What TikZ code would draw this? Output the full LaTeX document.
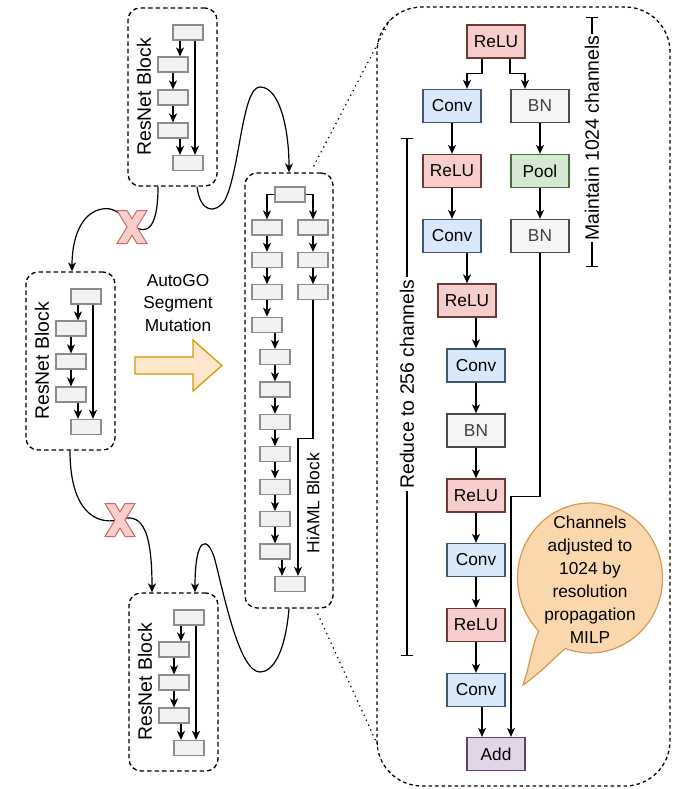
\documentclass[tikz,border=0pt]{standalone}
\usepackage{fontspec}
\setmainfont{Liberation Sans}
\usetikzlibrary{arrows.meta,calc}

\definecolor{relufill}{HTML}{F8CECC}\definecolor{relustroke}{HTML}{6B3A38}
\definecolor{convfill}{HTML}{DAE8FC}\definecolor{convstroke}{HTML}{40566F}
\definecolor{bnfill}{HTML}{F5F5F5}\definecolor{bnstroke}{HTML}{4A4A4A}
\definecolor{poolfill}{HTML}{D5E8D4}\definecolor{poolstroke}{HTML}{4B6B3B}
\definecolor{addfill}{HTML}{E1D5E7}\definecolor{addstroke}{HTML}{5A4566}
\definecolor{minifill}{HTML}{F2F2F2}\definecolor{ministroke}{HTML}{8C8C8C}
\definecolor{notefill}{HTML}{FAD7AC}\definecolor{notestroke}{HTML}{D49A55}
\definecolor{mutfill}{HTML}{FFE6CC}\definecolor{mutstroke}{HTML}{D79B00}
\definecolor{xfill}{HTML}{F8CECC}\definecolor{xstroke}{HTML}{C86A66}

\tikzset{
  arr/.style={line width=1.2pt, -{Stealth[length=9pt,width=8pt,inset=2.5pt]}},
  frame/.style={draw, dashed, dash pattern=on 4.5pt off 3pt, line width=1.3pt,
    rounded corners=12pt, inner sep=0pt},
  mini/.style={draw=ministroke, fill=minifill, line width=1.2pt,
    minimum width=30pt, minimum height=15pt, inner sep=0pt},
  op/.style={draw, line width=1.3pt, minimum width=58pt, minimum height=33pt,
    inner sep=0pt, font=\fontsize{17.3}{20}\selectfont},
  relu/.style={op, fill=relufill, draw=relustroke},
  conv/.style={op, fill=convfill, draw=convstroke},
  bn/.style={op, fill=bnfill, draw=bnstroke, text=black!75},
  pool/.style={op, fill=poolfill, draw=poolstroke},
  addop/.style={op, fill=addfill, draw=addstroke},
  sidetext/.style={font=\fontsize{19.4}{23}\selectfont, inner sep=1pt},
  plaintext/.style={font=\fontsize{17.3}{22.5}\selectfont, align=center, inner sep=0pt},
  bar/.style={line width=1.2pt, {Bar[width=12pt]}-{Bar[width=12pt]}},
  zoomline/.style={line width=1.2pt, dash pattern=on 1.3pt off 4pt},
  xmark/.style={fill=xfill, draw=xstroke, line width=1pt, line join=miter},
}

% residual block: #1 name, (#2,#3) top-left corner of its frame
\newcommand\resnetblock[3]{%
  \node[frame, minimum width=89pt, minimum height=178pt] (#1) at (#2+44.5,#3+89) {};
  \node[mini] (#1a) at (#2+60,#3+24.5) {};
  \node[mini] (#1b) at (#2+45,#3+56.5) {};
  \node[mini] (#1c) at (#2+45,#3+89.5) {};
  \node[mini] (#1d) at (#2+45,#3+122.5) {};
  \node[mini] (#1e) at (#2+60,#3+155) {};
  \node[sidetext, rotate=90] (#1t) at (#2+16,#3+89) {ResNet Block};
  \draw[arr] ([xshift=-8pt]#1a.south) -- ([xshift=-8pt]#1a.south |- #1b.north);
  \draw[arr] (#1b) -- (#1c);
  \draw[arr] (#1c) -- (#1d);
  \draw[arr] ([xshift=7pt]#1d.south) -- ([xshift=7pt]#1d.south |- #1e.north);
  \draw[arr] ([xshift=7pt]#1a.south) -- ([xshift=7pt]#1a.south |- #1e.north);
}

% a pink cross centred at (#1,#2)
\newcommand\crossmark[2]{%
  \draw[xmark] (#1-15,#2-16.5) -- (#1-5,#2-16.5) -- (#1,#2-8.25) -- (#1+5,#2-16.5)
    -- (#1+15,#2-16.5) -- (#1+5,#2) -- (#1+15,#2+16.5) -- (#1+5,#2+16.5)
    -- (#1,#2+8.25) -- (#1-5,#2+16.5) -- (#1-15,#2+16.5) -- (#1-5,#2) -- cycle;
}

\begin{document}
\begin{tikzpicture}[x=1pt, y=-1pt]
\useasboundingbox (0,0) rectangle (682,789);

% ---------- three residual blocks ----------
\resnetblock{resA}{128}{8}
\resnetblock{resB}{26}{272}
\resnetblock{resC}{129}{593}

% ---------- mutated block ----------
\node[frame, minimum width=88pt, minimum height=435pt] (hiaml) at (289,390.5) {};
\node[mini] (h0) at (290,194.5) {};
\foreach \i in {0,...,3} \node[mini] (hl\i) at (267,227.5+32.4*\i) {};
\foreach \i in {4,...,10} \node[mini] (hl\i) at (275,227.5+32.4*\i) {};
\foreach \i in {0,1,2} \node[mini] (hr\i) at (313,227.5+32.4*\i) {};
\node[mini] (hout) at (290,584) {};
\node[sidetext, font=\fontsize{17.5}{21}\selectfont, rotate=90] (hiamlt) at (313,503) {HiAML Block};

\draw[arr] (h0.west) -| (hl0.north);
\draw[arr] (h0.east) -| (hr0.north);
\foreach \i/\j in {0/1,1/2,2/3,4/5,5/6,6/7,7/8,8/9,9/10} \draw[arr] (hl\i) -- (hl\j);
\draw[arr] ([xshift=8pt]hl3.south) -- (hl4.north);
\foreach \i/\j in {0/1,1/2} \draw[arr] (hr\i) -- (hr\j);
\draw[arr] ([xshift=7pt]hl10.south) -- ([xshift=7pt]hl10.south |- hout.north);
\draw[arr] (hr2.south) -- ++(0,138) -| ([xshift=8pt]hout.north);

% ---------- mutation arrow ----------
\node[plaintext] (mut) at (178,303) {AutoGO\\Segment\\Mutation};
\draw[fill=mutfill, draw=mutstroke, line width=1.3pt, line join=miter]
  (135,357) -- (193,357) -- (193,340) -- (222,365.5) -- (193,391) -- (193,374) -- (135,374) -- cycle;

% ---------- links between blocks ----------
\draw[arr] ([xshift=-14.5pt]resA.south) .. controls (158,232) and (145,235) .. (132,225)
  .. controls (120,212) and (112,207) .. (102,209)
  .. controls (80,213) and (72,240) .. ([xshift=1.5pt]resB.north);
\draw[arr] ([xshift=24.5pt]resA.south) .. controls (200,212) and (215,215) .. (225,200)
  .. controls (240,170) and (242,87) .. (260,87)
  .. controls (280,87) and (289,130) .. (hiaml.north);
\draw[arr] ([xshift=-0.5pt]resB.south) .. controls (70,510) and (95,525) .. (118,520)
  .. controls (140,512) and (152,525) .. ([xshift=-21.5pt]resC.north);
\draw[arr] (hiaml.south) .. controls (285,655) and (272,672) .. (260,672)
  .. controls (240,672) and (225,600) .. (215,560)
  .. controls (208,535) and (195,535) .. ([xshift=21.5pt]resC.north);
\crossmark{132}{227}
\crossmark{120}{520}

% ---------- expanded view ----------
\node[frame, dash pattern=on 3.5pt off 3pt, rounded corners=45pt,
  minimum width=293pt, minimum height=779pt] (detail) at (523.5,396.5) {};
\coordinate (zt) at (390,20);
\coordinate (zb) at (379,748);
\draw[zoomline] ([xshift=-20pt,yshift=6pt]hiaml.north east) -- (zt);
\draw[zoomline] ([xshift=-16pt,yshift=-5pt]hiaml.south east) -- (zb);

\node[relu] (r0) at (496,41.5) {ReLU};
\node[conv] (c1) at (452,106) {Conv};
\node[bn]   (b1) at (540,106) {BN};
\node[relu] (r1) at (452,171) {ReLU};
\node[pool] (p1) at (540,171) {Pool};
\node[conv] (c2) at (452,236) {Conv};
\node[bn]   (b2) at (540,236) {BN};
\node[relu] (r2) at (467,300.5) {ReLU};
\node[conv] (c3) at (476,365.5) {Conv};
\node[bn]   (b3) at (476,430.5) {BN};
\node[relu] (r3) at (476,495.5) {ReLU};
\node[conv] (c4) at (476,560) {Conv};
\node[relu] (r4) at (476,625) {ReLU};
\node[conv] (c5) at (476,690) {Conv};
\node[addop] (ad) at (496,754) {Add};

\draw[arr] ([xshift=-14pt]r0.south) -- ++(0,15) -| ([xshift=15pt]c1.north);
\draw[arr] ([xshift=14pt]r0.south) -- ++(0,15) -| ([xshift=-15pt]b1.north);
\draw[arr] (c1) -- (r1);
\draw[arr] (r1) -- (c2);
\draw[arr] (b1) -- (p1);
\draw[arr] (p1) -- (b2);
\draw[arr] ([xshift=15pt]c2.south) -- ([xshift=15pt]c2.south |- r2.north);
\draw[arr] ([xshift=9pt]r2.south) -- (c3.north);
\draw[arr] (c3) -- (b3);
\draw[arr] (b3) -- (r3);
\draw[arr] (r3) -- (c4);
\draw[arr] (c4) -- (r4);
\draw[arr] (r4) -- (c5);
\draw[arr] ([xshift=6pt]c5.south) -- ([xshift=6pt]c5.south |- ad.north);
\draw[arr] (b2.south) -- ++(0,243) -| ([xshift=15pt]ad.north);

% channel annotations
\coordinate (mtop) at (592,17);
\coordinate (mbot) at (592,267);
\draw[bar] (mtop) -- (mbot);
\node[sidetext, rotate=90, fill=white, inner sep=2pt] (maint) at (592,138) {Maintain 1024 channels};
\coordinate (rtop) at (407,138);
\coordinate (rbot) at (407,656);
\draw[bar] (rtop) -- (rbot);
\node[sidetext, rotate=90, fill=white, inner sep=2pt] (reduce) at (407,384) {Reduce to 256 channels};

% speech bubble
\coordinate (tip) at (523,685);
\draw[fill=notefill, draw=notestroke, line width=1.2pt]
  (tip) .. controls (530,665) and (532,645) .. ($(590,578)+(135:72.5 and 75)$)
  arc[start angle=135, end angle=470, x radius=72.5, y radius=75]
  .. controls (552,660) and (538,675) .. (tip) -- cycle;
\node[plaintext, font=\fontsize{17.3}{23}\selectfont] (note) at (590,580)
  {Channels\\adjusted to\\1024 by\\resolution\\propagation\\MILP};
\end{tikzpicture}
\end{document}
